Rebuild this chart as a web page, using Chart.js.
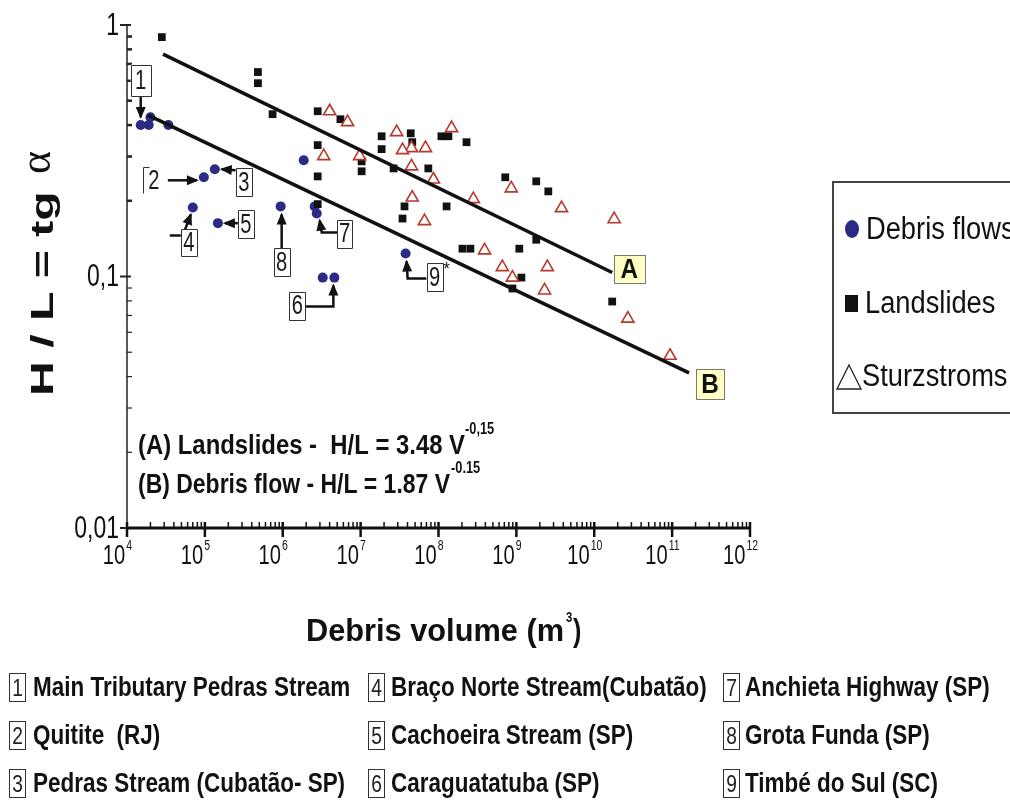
<!DOCTYPE html>
<html>
<head>
<meta charset="utf-8">
<script src="https://cdn.jsdelivr.net/npm/chart.js@4"></script>
<style>
  html, body { margin: 0; padding: 0; background: #fff; }
  #wrap { position: relative; width: 1010px; height: 801px; overflow: hidden; }
  #chart { position: absolute; left: 0; top: 0; }
  .kbox { position: absolute; width: 17px; height: 29px; border: 1px solid #333; box-sizing: border-box;
          font: 24px "Liberation Sans", Arial, sans-serif; color: #222; text-align: center; line-height: 28px; }
  .kbox span { display: inline-block; transform: scaleX(0.8); }
  .ktxt { position: absolute; font: bold 27px "Liberation Sans", Arial, sans-serif; color: #111;
          white-space: pre; transform-origin: left center; line-height: 30px; }
</style>
</head>
<body>
<div id="wrap">
  <canvas id="chart" width="1010" height="801"></canvas>
  <div id="key"></div>
</div>
<script>
// debris volume (m3) and H/L
const debrisV  = [1.5e4, 1.9e4, 2.0e4, 3.4e4, 9.7e4, 1.34e5, 7.0e4, 1.47e5, 9.4e5, 1.86e6, 2.57e6, 2.73e6, 3.26e6, 4.6e6, 3.78e7];
const debrisHL = [0.40, 0.40, 0.43, 0.40, 0.248, 0.267, 0.188, 0.163, 0.190, 0.290, 0.190, 0.178, 0.099, 0.099, 0.1235];
// site number attached to some debris flow points
const debrisSite = ['1', '', '', '', '2', '3', '4', '5', '8', '', '', '7', '', '6', '9'];

const slideV  = [2.8e4, 4.8e5, 4.8e5, 7.4e5, 2.81e6, 5.5e6, 2.81e6, 2.81e6, 2.81e6, 1.03e7, 1.03e7, 1.86e7, 1.86e7,
                 4.4e7, 4.6e7, 2.65e7, 7.4e7, 1.09e8, 1.34e8, 2.29e8, 3.66e7, 3.45e7, 1.27e8, 2.03e8, 2.57e8,
                 1.09e9, 7.2e8, 1.8e9, 2.57e9, 1.8e9, 1.16e9, 8.9e8, 1.7e10];
const slideHL = [0.895, 0.65, 0.587, 0.442, 0.454, 0.422, 0.333, 0.250, 0.194, 0.287, 0.262, 0.361, 0.321,
                 0.371, 0.342, 0.269, 0.269, 0.361, 0.361, 0.342, 0.190, 0.170, 0.190, 0.129, 0.129,
                 0.129, 0.248, 0.239, 0.218, 0.140, 0.099, 0.0896, 0.0795];

const sturzV  = [4.0e6, 6.8e6, 2.9e7, 4.5e7, 6.8e7, 3.45e7, 1.47e8, 3.36e6, 9.7e6, 4.5e7, 8.6e7, 8.6e8,
                 2.8e8, 4.6e7, 6.6e7, 3.8e9, 1.8e10, 3.9e8, 6.6e8, 8.9e8, 2.5e9, 2.3e9, 2.7e10, 9.4e10];
const sturzHL = [0.454, 0.411, 0.375, 0.324, 0.324, 0.318, 0.389, 0.301, 0.301, 0.274, 0.243, 0.224,
                 0.203, 0.206, 0.166, 0.187, 0.169, 0.127, 0.109, 0.099, 0.109, 0.088, 0.068, 0.0484];

// fitted lines, end points as drawn
const lineAV  = [2.9e4, 1.7e10];
const lineAHL = [0.766, 0.1037];
const lineBV  = [1.86e4, 1.65e11];
const lineBHL = [0.438, 0.0414];

const xTickExp = [4, 5, 6, 7, 8, 9, 10, 11, 12];
const yTickVals = [1, 0.1, 0.01];
const yTickLabels = ['1', '0,1', '0,01'];

const legendLabels = ['Debris flows', 'Landslides', 'Sturzstroms'];
const keyNums = ['1', '2', '3', '4', '5', '6', '7', '8', '9'];
const keyNames = ['Main Tributary Pedras Stream', 'Quitite  (RJ)', 'Pedras Stream (Cubatão- SP)',
                  'Braço Norte Stream(Cubatão)', 'Cachoeira Stream (SP)', 'Caraguatatuba (SP)',
                  'Anchieta Highway (SP)', 'Grota Funda (SP)', 'Timbé do Sul (SC)'];

const BLUE = '#2b2b86';
const RED = '#b5392c';
const SANS = '"Liberation Sans", Arial, sans-serif';

const pts = (xs, ys) => xs.map((v, i) => ({ x: v, y: ys[i] }));

function txt(ctx, str, x, y, font, sx, align) {
  ctx.save();
  ctx.font = font;
  ctx.textAlign = align || 'left';
  ctx.translate(x, y);
  ctx.scale(sx, 1);
  ctx.fillText(str, 0, 0);
  ctx.restore();
}

// squeeze text to a given width
function fitTxt(ctx, str, x, y, font, width) {
  ctx.font = font;
  const sx = width / ctx.measureText(str).width;
  txt(ctx, str, x, y, font, sx, 'left');
}

function arrow(ctx, path) {
  ctx.save();
  ctx.strokeStyle = '#111';
  ctx.fillStyle = '#111';
  ctx.lineWidth = 2.5;
  ctx.beginPath();
  ctx.moveTo(path[0][0], path[0][1]);
  for (let i = 1; i < path.length; i++) ctx.lineTo(path[i][0], path[i][1]);
  ctx.stroke();
  const [px, py] = path[path.length - 2];
  const [tx, ty] = path[path.length - 1];
  const a = Math.atan2(ty - py, tx - px);
  ctx.translate(tx, ty);
  ctx.rotate(a);
  ctx.beginPath();
  ctx.moveTo(2, 0);
  ctx.lineTo(-10, -5);
  ctx.lineTo(-10, 5);
  ctx.closePath();
  ctx.fill();
  ctx.restore();
}

function numBox(ctx, str, cx, cy, w, h, sides) {
  ctx.save();
  ctx.fillStyle = '#fff';
  ctx.fillRect(cx - w / 2, cy - h / 2, w, h);
  ctx.strokeStyle = '#333';
  ctx.lineWidth = 1;
  const l = Math.round(cx - w / 2) + 0.5, t = Math.round(cy - h / 2) + 0.5;
  ctx.beginPath();
  if (sides === 'left') {
    ctx.moveTo(l + 6, t); ctx.lineTo(l, t); ctx.lineTo(l, t + h);
  } else {
    ctx.rect(l, t, w, h);
  }
  ctx.stroke();
  ctx.fillStyle = '#1a1a1a';
  ctx.textBaseline = 'middle';
  txt(ctx, str, cx, cy + 1, '28px ' + SANS, 0.72, 'center');
  ctx.restore();
}

// boxes with arrows for the numbered debris flow sites: offsets from the point
const siteMarks = {
  '1': { box: [0, -45, 20, 31], path: [[0, -29], [0, -8]] },
  '2': { box: [-50, 3, 22, 26], path: [[-36, 3], [-7, 3]], sides: 'left' },
  '3': { box: [29, 13, 16, 28], path: [[21, 1], [7, 0]] },
  '4': { box: [-4, 35, 16, 27], path: [[-23, 28], [-10, 28], [-2, 7]] },
  '5': { box: [28, 1, 16, 28], path: [[20, 0], [7, 0]] },
  '6': { box: [-37, 28, 16, 28], path: [[-29, 29], [-1, 29], [-1, 8]] },
  '7': { box: [28, 20, 15, 28], path: [[21, 19], [5, 19], [3, 7]] },
  '8': { box: [1, 56, 16, 28], path: [[1, 42], [1, 8]] },
  '9': { box: [29, 24, 16, 28], path: [[21, 25], [2, 25], [1, 8]] }
};

const frame = {
  id: 'frame',
  afterDatasetsDraw(chart) {
    const { ctx, scales: { x, y } } = chart;
    const x0 = x.getPixelForValue(1e4), x1 = x.getPixelForValue(1e12);
    const yTop = y.getPixelForValue(1), y0 = y.getPixelForValue(0.01);
    ctx.save();
    ctx.fillStyle = '#111';
    ctx.strokeStyle = '#222';

    // y axis
    ctx.lineWidth = 1.5;
    ctx.beginPath(); ctx.moveTo(x0, yTop); ctx.lineTo(x0, y0); ctx.stroke();
    for (let k = -2; k < 0; k++) {
      for (let m = 2; m <= 9; m++) {
        const py = y.getPixelForValue(m * Math.pow(10, k));
        ctx.lineWidth = k === -1 ? 2.5 : 1.2;
        ctx.beginPath(); ctx.moveTo(x0, py); ctx.lineTo(x0 + 5, py); ctx.stroke();
      }
    }
    ctx.lineWidth = 2;
    ctx.textBaseline = 'middle';
    yTickVals.forEach((v, i) => {
      const py = y.getPixelForValue(v);
      ctx.beginPath(); ctx.moveTo(x0 - 7, py); ctx.lineTo(x0 + 4, py); ctx.stroke();
      txt(ctx, yTickLabels[i], x0 - 8, py + 1, '31px ' + SANS, 0.74, 'right');
    });

    // x axis
    ctx.strokeStyle = '#111';
    ctx.lineWidth = 3;
    ctx.beginPath(); ctx.moveTo(x0, y0); ctx.lineTo(x1, y0); ctx.stroke();
    ctx.lineWidth = 1.5;
    for (let k = 4; k < 12; k++) {
      for (let m = 2; m <= 9; m++) {
        const px = x.getPixelForValue(m * Math.pow(10, k));
        ctx.beginPath(); ctx.moveTo(px, y0); ctx.lineTo(px, y0 - 6); ctx.stroke();
      }
    }
    ctx.textBaseline = 'alphabetic';
    xTickExp.forEach(e => {
      const px = x.getPixelForValue(Math.pow(10, e));
      ctx.lineWidth = 2.5;
      ctx.beginPath(); ctx.moveTo(px, y0 - 6); ctx.lineTo(px, y0 + 9); ctx.stroke();
      const sup = String(e);
      const wSup = sup.length * 5.5;
      txt(ctx, '10', px - wSup / 2 + 1, y0 + 36, '28px ' + SANS, 0.72, 'right');
      txt(ctx, sup, px - wSup / 2 + 2, y0 + 22, '14px ' + SANS, 0.75, 'left');
    });

    // numbered sites
    debrisSite.forEach((s, i) => {
      if (!s) return;
      const m = siteMarks[s];
      const px = x.getPixelForValue(debrisV[i]), py = y.getPixelForValue(debrisHL[i]);
      arrow(ctx, m.path.map(p => [px + p[0], py + p[1]]));
      numBox(ctx, s, px + m.box[0], py + m.box[1], m.box[2], m.box[3], m.sides);
      if (s === '9') txt(ctx, '*', px + m.box[0] + 9, py + m.box[1] - 2, '18px ' + SANS, 0.9, 'left');
    });

    // A / B tags at the line ends
    const tag = (str, v, hl, dx, dy, w, h) => {
      const cx = x.getPixelForValue(v) + dx, cy = y.getPixelForValue(hl) + dy;
      ctx.fillStyle = '#ffffc4';
      ctx.fillRect(cx - w / 2, cy - h / 2, w, h);
      ctx.strokeStyle = '#777';
      ctx.lineWidth = 1;
      ctx.strokeRect(Math.round(cx - w / 2) + 0.5, Math.round(cy - h / 2) + 0.5, w, h);
      ctx.fillStyle = '#111';
      ctx.textBaseline = 'middle';
      txt(ctx, str, cx, cy + 2, 'bold 27px ' + SANS, 0.9, 'center');
    };
    tag('A', lineAV[1], lineAHL[1], 17, -4, 31, 28);
    tag('B', lineBV[1], lineBHL[1], 21, 11, 28, 30);

    // equations
    ctx.fillStyle = '#111';
    ctx.textBaseline = 'alphabetic';
    fitTxt(ctx, '(A) Landslides -  H/L = 3.48 V', 138, 454, 'bold 28px ' + SANS, 327);
    txt(ctx, '-0,15', 465, 434, 'bold 16px ' + SANS, 0.8, 'left');
    fitTxt(ctx, '(B) Debris flow - H/L = 1.87 V', 138, 493, 'bold 28px ' + SANS, 312);
    txt(ctx, '-0.15', 451, 473, 'bold 16px ' + SANS, 0.8, 'left');

    // axis titles
    fitTxt(ctx, 'Debris volume (m', 306, 641, 'bold 32px ' + SANS, 258);
    txt(ctx, '3', 566, 622, 'bold 14px ' + SANS, 0.8, 'left');
    txt(ctx, ')', 573, 641, 'bold 32px ' + SANS, 0.78, 'left');
    ctx.save();
    ctx.translate(53, 396);
    ctx.rotate(-Math.PI / 2);
    fitTxt(ctx, 'H / L = tg ', 0, 0, 'bold 31px ' + SANS, 218);
    txt(ctx, 'α', 222, -3, '44px "Liberation Serif", serif', 1, 'left');
    ctx.restore();

    // legend box
    ctx.strokeStyle = '#444';
    ctx.lineWidth = 2;
    ctx.strokeRect(833, 182, 200, 231);
    ctx.fillStyle = BLUE;
    ctx.beginPath(); ctx.ellipse(852, 229, 7, 9, 0, 0, Math.PI * 2); ctx.fill();
    ctx.fillStyle = '#111';
    ctx.fillRect(845, 295, 13, 17);
    ctx.strokeStyle = '#222';
    ctx.lineWidth = 1.3;
    ctx.beginPath(); ctx.moveTo(849, 365); ctx.lineTo(861, 389); ctx.lineTo(837, 389); ctx.closePath(); ctx.stroke();
    ctx.fillStyle = '#111';
    ctx.textBaseline = 'middle';
    txt(ctx, legendLabels[0], 866, 230, '31px ' + SANS, 0.88, 'left');
    txt(ctx, legendLabels[1], 865, 304, '31px ' + SANS, 0.88, 'left');
    txt(ctx, legendLabels[2], 862, 377, '31px ' + SANS, 0.88, 'left');
    ctx.restore();
  }
};

new Chart(document.getElementById('chart'), {
  type: 'scatter',
  data: {
    datasets: [
      { label: 'Fit A', data: pts(lineAV, lineAHL), showLine: true, borderColor: '#111', borderWidth: 3.5, pointRadius: 0 },
      { label: 'Fit B', data: pts(lineBV, lineBHL), showLine: true, borderColor: '#111', borderWidth: 3.5, pointRadius: 0 },
      { label: 'Sturzstroms', data: pts(sturzV, sturzHL), pointStyle: 'triangle', pointRadius: 7,
        backgroundColor: '#fff', borderColor: RED, borderWidth: 1.6 },
      { label: 'Landslides', data: pts(slideV, slideHL), pointStyle: 'rect', pointRadius: 5.5,
        backgroundColor: '#111', borderColor: '#111', borderWidth: 0 },
      { label: 'Debris flows', data: pts(debrisV, debrisHL), pointStyle: 'circle', pointRadius: 5,
        backgroundColor: BLUE, borderColor: BLUE, borderWidth: 0 }
    ]
  },
  options: {
    responsive: false,
    animation: false,
    layout: { padding: { left: 127, right: 260, top: 25, bottom: 273 } },
    plugins: { legend: { display: false }, tooltip: { enabled: false } },
    scales: {
      x: { type: 'logarithmic', min: 1e4, max: 1e12, display: false },
      y: { type: 'logarithmic', min: 0.01, max: 1, display: false }
    }
  },
  plugins: [frame]
});

// key of numbered sites below the chart
const key = document.getElementById('key');
const colBox = [9, 368, 723], colTxt = [33, 391, 745], rowY = [688, 736, 784];
let keyScale = 1;
keyNames.forEach((name, i) => {
  const c = Math.floor(i / 3), r = i % 3;
  const b = document.createElement('div');
  b.className = 'kbox';
  b.style.left = colBox[c] + 'px';
  b.style.top = (rowY[r] - 15) + 'px';
  b.innerHTML = '<span>' + keyNums[i] + '</span>';
  key.appendChild(b);
  const t = document.createElement('div');
  t.className = 'ktxt';
  t.textContent = name;
  t.style.left = colTxt[c] + 'px';
  t.style.top = (rowY[r] - 16) + 'px';
  key.appendChild(t);
  if (i === 0) keyScale = 317 / t.offsetWidth;
  t.style.transform = 'scaleX(' + keyScale + ')';
});
</script>
</body>
</html>
